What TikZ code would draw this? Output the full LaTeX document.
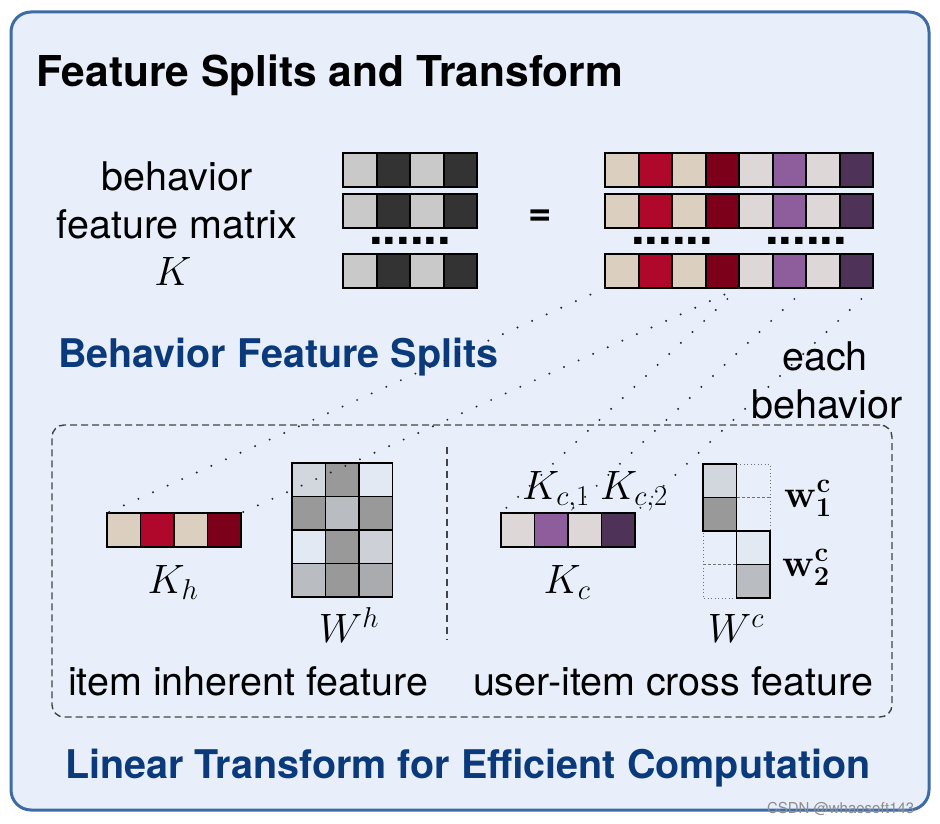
\documentclass[tikz,border=0pt]{standalone}
\usepackage{fix-cm}
\usepackage[no-math]{fontspec}
\setmainfont{TeX Gyre Heros}
\definecolor{bgc}{HTML}{E8EFFA}
\definecolor{framec}{HTML}{3D6BA6}
\definecolor{bluet}{HTML}{0B3A7C}
\definecolor{beige}{HTML}{DBD0BF}
\definecolor{redc}{HTML}{B0082B}
\definecolor{dredc}{HTML}{7C0019}
\definecolor{lpink}{HTML}{DED7D7}
\definecolor{purp}{HTML}{8D5E9B}
\definecolor{dpurp}{HTML}{4F3257}
\definecolor{lgr}{HTML}{C9C9C9}
\definecolor{dgr}{HTML}{333333}
\definecolor{wA}{HTML}{D2D7DE}
\definecolor{wB}{HTML}{999999}
\definecolor{wC}{HTML}{E3E9F2}
\definecolor{wD}{HTML}{B9BCC0}
\definecolor{wE}{HTML}{CDD1D7}
\definecolor{wF}{HTML}{A9ABAE}
\definecolor{boxc}{HTML}{444444}
\newcommand{\mybar}[6]{%
  \foreach \cc [count=\ii from 0] in {#6} {\fill[\cc] ({#2+\ii*33.5},#3) rectangle ++(33.5,34);}
  \foreach \ii in {2,...,#4} {\draw[line width=#5] ({#2+(\ii-1)*33.5},#3) -- ++(0,34);}
  \node[draw, line width=#5, minimum width=#4*33.5pt, minimum height=34pt, anchor=north west] (#1) at (#2,#3) {};
}
\newcommand{\fsz}[1]{\fontsize{#1}{#1}\selectfont}
\begin{document}
\begin{tikzpicture}[x=1pt,y=-1pt,
  every node/.style={inner sep=0pt, outer sep=0pt},
  txt/.style={font=\fsz{39.5}},
  mth/.style={font=\fsz{41}},
  head/.style={font=\fsz{39.5}\bfseries, text=bluet},
  conn/.style={line width=2.2pt, dash pattern=on 0pt off 16pt, line cap=round, draw=black!85},
  thinbox/.style={draw=black!55, line width=1pt, dash pattern=on 1pt off 2.5pt},
  midline/.style={draw=black!55, line width=1pt, dash pattern=on 3pt off 2pt}]
\useasboundingbox (0,0) rectangle (940,824);
\fill[white] (0,0) rectangle (940,824);
\node[draw=framec, line width=3pt, fill=bgc, rounded corners=20pt, minimum width=918pt, minimum height=798pt, anchor=north west] (frame) at (11,12) {};
\node[anchor=base west, font=\fsz{42.5}\bfseries] (title) at (36,87) {Feature Splits and Transform};
% left label
\node[txt, anchor=base] (lblA) at (177,190) {behavior};
\node[txt, anchor=base] (lblB) at (177,238) {feature matrix};
\node[mth, anchor=base] (lblC) at (173,285) {$K$};
% left matrix K
\mybar{L1}{343}{153}{4}{2pt}{lgr,dgr,lgr,dgr}
\mybar{L2}{343}{194}{4}{2pt}{lgr,dgr,lgr,dgr}
\mybar{L3}{343}{254}{4}{2pt}{lgr,dgr,lgr,dgr}
\node[font=\fsz{49}\bfseries, anchor=base] (dL) at (410,244) {......};
\node[font=\fsz{40}\bfseries] (eq) at (540,218) {=};
% right matrix
\mybar{R1}{605}{153}{8}{2pt}{beige,redc,beige,dredc,lpink,purp,lpink,dpurp}
\mybar{R2}{605}{194}{8}{2pt}{beige,redc,beige,dredc,lpink,purp,lpink,dpurp}
\mybar{R3}{605}{254}{8}{2pt}{beige,redc,beige,dredc,lpink,purp,lpink,dpurp}
\node[font=\fsz{49}\bfseries, anchor=base] (dR1) at (672,244) {......};
\node[font=\fsz{49}\bfseries, anchor=base] (dR2) at (806,244) {......};
\coordinate (r4) at (739,288);
\coordinate (r6) at (806,288);
\node[head, anchor=base west] (bfs) at (58,367) {Behavior Feature Splits};
\node[txt, anchor=base] (each1) at (825,370) {each};
\node[txt, anchor=base] (each2) at (827,418) {behavior};
% dashed box
\node[draw=boxc, line width=1.4pt, dash pattern=on 7pt off 4pt, rounded corners=12pt, minimum width=840pt, minimum height=292pt, anchor=north west] (dbox) at (52,425) {};
\draw[draw=boxc, line width=1.4pt, dash pattern=on 7pt off 5pt] (447,447) -- (447,640);
% Kh
\mybar{Kh}{107}{513}{4}{1.3pt}{beige,redc,beige,dredc}
\node[mth, anchor=base] (Khl) at (173,593) {$K_h$};
% Wh
\foreach \cc [count=\ii from 0] in {wA,wB,wC,wB,wD,wB,wC,wB,wE,wD,wB,wF} {
  \pgfmathtruncatemacro{\rr}{\ii/3}
  \pgfmathtruncatemacro{\kk}{\ii-3*\rr}
  \fill[\cc] ({292+\kk*33.5},{463+\rr*33.5}) rectangle ++(33.5,33.5);
}
\foreach \ii in {1,2} {\draw[line width=1.3pt] ({292+\ii*33.5},463) -- ++(0,134);}
\foreach \ii in {1,2,3} {\draw[line width=1.3pt] (292,{463+\ii*33.5}) -- ++(100.5,0);}
\node[draw, line width=1.3pt, minimum width=100.5pt, minimum height=134pt, anchor=north west] (Wh) at (292,463) {};
\node[mth, anchor=base] (Whl) at (349,642) {$W^h$};
\node[txt, anchor=base west] (ihf) at (68,695) {item inherent feature};
% Kc
\mybar{Kc}{501}{513}{4}{1.3pt}{lpink,purp,lpink,dpurp}
\node[mth, anchor=base] (Kcl) at (567,593) {$K_c$};
\node[mth, anchor=base] (Kc1) at (556,499) {$K_{c,1}$};
\node[mth, anchor=base] (Kc2) at (634,499) {$K_{c,2}$};
% Wc
\draw[thinbox] (736.5,464) -- (770,464) -- (770,531) -- (736.5,531);
\draw[midline] (736.5,497.5) -- (770,497.5);
\draw[thinbox] (736.5,531) -- (703,531) -- (703,598) -- (736.5,598);
\draw[midline] (703,564.5) -- (736.5,564.5);
\fill[wA] (703,464) rectangle ++(33.5,33.5);
\fill[wB] (703,497.5) rectangle ++(33.5,33.5);
\fill[wC] (736.5,531) rectangle ++(33.5,33.5);
\fill[wD] (736.5,564.5) rectangle ++(33.5,33.5);
\draw[line width=1.3pt] (703,497.5) -- ++(33.5,0);
\draw[line width=1.3pt] (736.5,564.5) -- ++(33.5,0);
\node[draw, line width=1.3pt, minimum width=33.5pt, minimum height=67pt, anchor=north west] (Wc1) at (703,464) {};
\node[draw, line width=1.3pt, minimum width=33.5pt, minimum height=67pt, anchor=north west] (Wc2) at (736.5,531) {};
\node[font=\fsz{39}, anchor=base] (w1) at (808,507) {$\mathbf{w}^{\mathbf{c}}_{\mathbf{1}}$};
\node[font=\fsz{39}, anchor=base] (w2) at (806,576) {$\mathbf{w}^{\mathbf{c}}_{\mathbf{2}}$};
\node[mth, anchor=base] (Wcl) at (736,642) {$W^c$};
\node[txt, anchor=base west] (ucf) at (473,695) {user-item cross feature};
% connectors
\draw[conn] (R3.south west) -- (Kh.north west);
\draw[conn] (r4) -- (Kh.north east);
\draw[conn] (r4) -- (Kc.north west);
\draw[conn] (r6) -- (Kc.north);
\draw[conn] (R3.south east) -- (Kc.north east);
\node[head, anchor=base west] (ltf) at (65,778) {Linear Transform for Efficient Computation};
\node[font=\fsz{15}, text=black!45, anchor=base west] (wm) at (767,813) {CSDN @whaosoft143};
\end{tikzpicture}
\end{document}
